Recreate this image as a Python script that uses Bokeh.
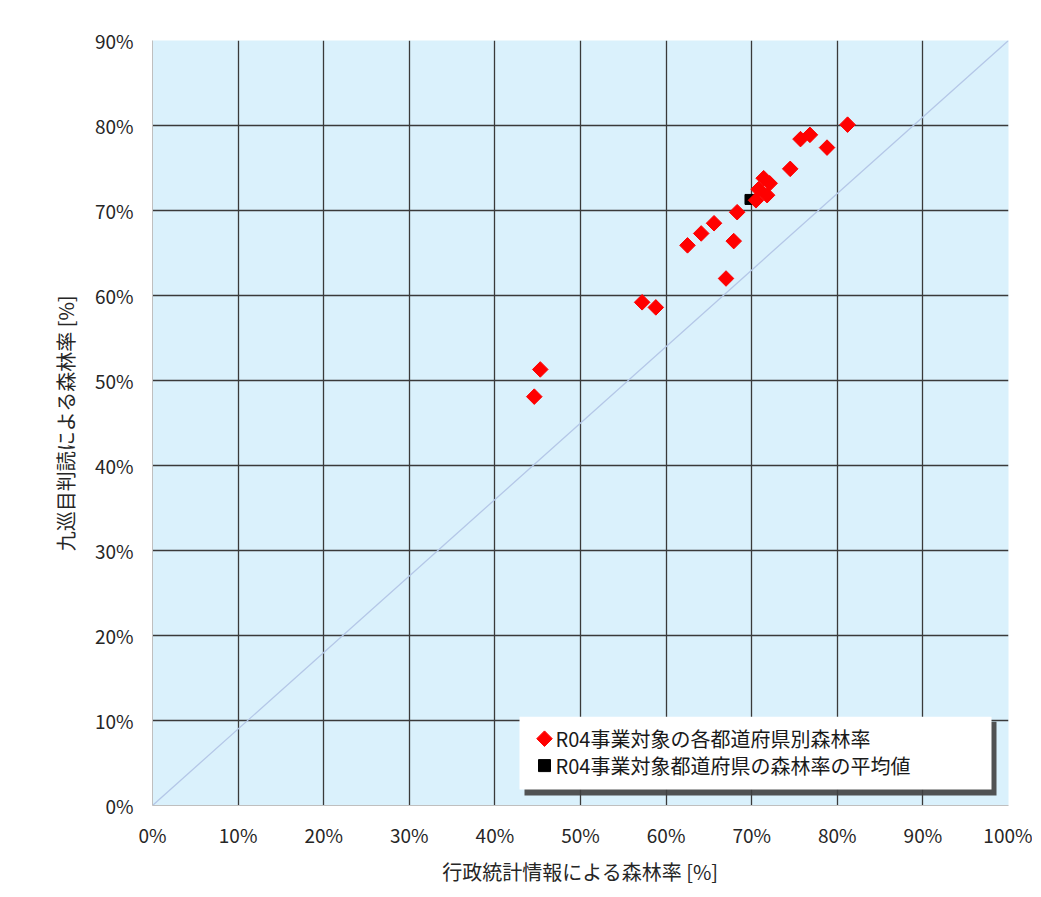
from bokeh.plotting import figure
from bokeh.models import Range1d, FixedTicker, PrintfTickFormatter
from bokeh.core.properties import value
from bokeh.embed import file_html
from bokeh.resources import INLINE

# data (percent)
pref_admin = [81.2, 75.7, 76.8, 78.8, 74.5, 71.4, 72.1, 70.8, 71.8, 70.5,
              68.3, 65.6, 64.1, 62.5, 67.9, 67.0, 57.2, 58.8, 45.3, 44.6]
pref_survey = [80.1, 78.4, 78.9, 77.4, 74.9, 73.8, 73.2, 72.5, 71.8, 71.2,
               69.8, 68.5, 67.3, 65.9, 66.4, 62.0, 59.2, 58.6, 51.3, 48.1]
avg_admin = [69.8]
avg_survey = [71.3]
diag_x = [0, 100]
diag_y = [0, 90]
x_ticks = list(range(0, 101, 10))
y_ticks = list(range(0, 91, 10))
legend_labels = ["R04事業対象の各都道府県別森林率", "R04事業対象都道府県の森林率の平均値"]
x_label = "行政統計情報による森林率 [%]"
y_label = "九巡目判読による森林率 [%]"

JP = "Noto Sans CJK JP"

p = figure(width=1032, height=888, output_backend="svg", toolbar_location=None,
           x_range=Range1d(0, 100), y_range=Range1d(0, 90),
           min_border_left=152, min_border_right=24, min_border_top=40, min_border_bottom=81)
p.background_fill_color = "#DAF1FC"
p.border_fill_color = "white"
p.outline_line_color = None

for ax, ticks in ((p.xaxis[0], x_ticks), (p.yaxis[0], y_ticks)):
    ax.ticker = FixedTicker(ticks=ticks)
    ax.formatter = PrintfTickFormatter(format="%d%%")
    ax.major_tick_out = 0
    ax.major_tick_in = 0
    ax.minor_tick_out = 0
    ax.minor_tick_in = 0
    ax.axis_line_color = "#BFBFBF"
    ax.axis_line_width = 1
    ax.major_label_text_font = JP
    ax.major_label_text_font_size = "19px"
    ax.major_label_text_color = "#262626"
    ax.axis_label_text_font = JP
    ax.axis_label_text_font_size = "20px"
    ax.axis_label_text_font_style = "normal"
    ax.axis_label_text_color = "#262626"

p.xaxis.major_label_standoff = 15
p.yaxis.major_label_standoff = 19
p.xaxis.axis_label_standoff = 6
p.yaxis.axis_label_standoff = 12

p.xaxis.axis_label = x_label
p.yaxis.axis_label = y_label

p.grid.grid_line_color = "#3a3a3a"
p.grid.grid_line_width = 1.3
p.xgrid.ticker = FixedTicker(ticks=x_ticks[1:])
p.ygrid.ticker = FixedTicker(ticks=y_ticks[1:])

# diagonal reference
p.line(diag_x, diag_y, line_color="#B4C7E7", line_width=1.3)

# average (drawn beneath)
p.scatter(avg_admin, avg_survey, marker="square", size=10, fill_color="black", line_color="black")
# prefecture points
p.scatter(pref_admin, pref_survey, marker="square", angle=0.785398, size=11,
          fill_color="#FF0000", line_color="#FF0000")

# legend (drawn manually in data units)
sx = 8.56
sy = 8.522
def dx(px):
    return (px - 153) / sx
def dy(py):
    return (807 - py) / sy

p.quad(left=[dx(525)], right=[dx(997)], top=[dy(723)], bottom=[dy(797)],
       fill_color="#404040", line_color=None, fill_alpha=0.9)
p.quad(left=[dx(520)], right=[dx(992)], top=[dy(718)], bottom=[dy(791)],
       fill_color="white", line_color=None)
p.scatter([dx(545)], [dy(740)], marker="square", angle=0.785398, size=11,
          fill_color="#FF0000", line_color="#FF0000")
p.scatter([dx(545)], [dy(767)], marker="square", size=12,
          fill_color="black", line_color="black")
p.text([dx(556), dx(556)], [dy(740), dy(767)], text=legend_labels,
       text_font=value(JP), text_font_size="20px", text_baseline="middle",
       text_color="#1a1a1a")

open("out.html", "w").write(file_html(p, INLINE))
